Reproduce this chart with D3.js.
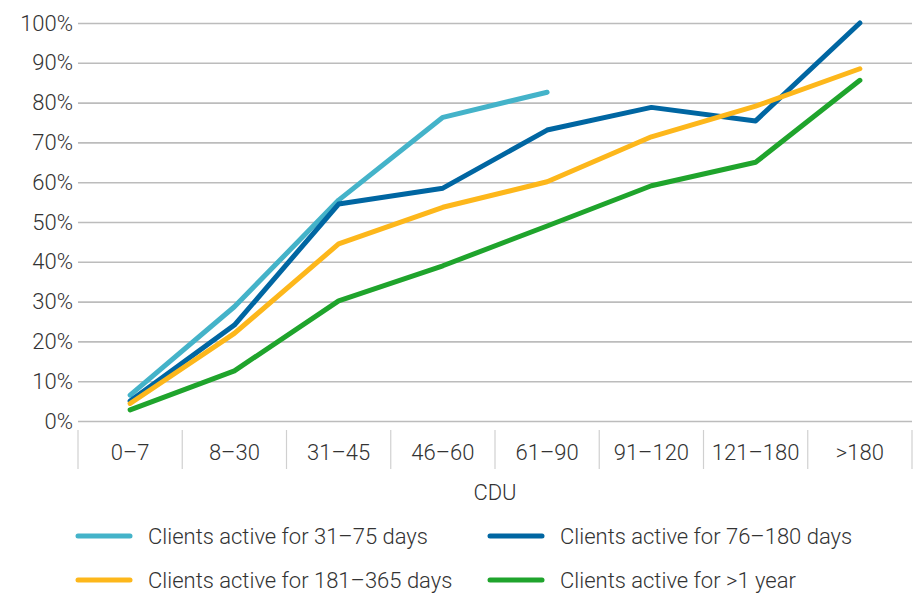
<!DOCTYPE html>
<html>
<head>
<meta charset="utf-8">
<script src="https://cdn.jsdelivr.net/npm/d3@7"></script>
<style>
  html, body { margin: 0; padding: 0; background: #fff; }
  svg text { font-family: Roboto, "Liberation Sans", sans-serif; font-weight: 300; fill: #333; }
</style>
</head>
<body>
<svg id="chart" width="921" height="594"></svg>
<script>
// CDU buckets along the x axis
const categories = ["0–7", "8–30", "31–45", "46–60", "61–90", "91–120", "121–180", ">180"];

// Share of clients per CDU bucket, by activity cohort (null = no data)
const active31to75 = [0.065, 0.287, 0.555, 0.763, 0.826, null, null, null];
const active76to180 = [0.05, 0.241, 0.545, 0.585, 0.731, 0.788, 0.754, 1.0];
const active181to365 = [0.044, 0.22, 0.445, 0.537, 0.601, 0.714, 0.791, 0.885];
const activeOver1y = [0.028, 0.126, 0.302, 0.39, 0.49, 0.591, 0.65, 0.856];

const yTicks = [0, 0.1, 0.2, 0.3, 0.4, 0.5, 0.6, 0.7, 0.8, 0.9, 1.0];
const seriesNames = [
  "Clients active for 31–75 days",
  "Clients active for 76–180 days",
  "Clients active for 181–365 days",
  "Clients active for >1 year"
];
const seriesColors = ["#44b3c9", "#0066a2", "#fdb71b", "#1fa42c"];
const seriesValues = [active31to75, active76to180, active181to365, activeOver1y];

const svg = d3.select("#chart");
const plotLeft = 78, plotRight = 912, plotTop = 23, plotBottom = 421;

const x = d3.scaleBand().domain(categories).range([plotLeft, plotRight]).padding(0);
const y = d3.scaleLinear().domain([0, 1]).range([plotBottom, plotTop]);

// Horizontal gridlines with percent labels
const yAxis = svg.append("g")
  .attr("transform", `translate(${plotLeft},0)`)
  .call(d3.axisLeft(y).tickValues(yTicks).tickSize(-(plotRight - plotLeft)).tickPadding(5)
    .tickFormat(d3.format(".0%")));
yAxis.select(".domain").remove();
yAxis.selectAll(".tick line").attr("stroke", "#bcbcbc").attr("stroke-width", 1.6);
yAxis.selectAll(".tick text").attr("font-size", 22).attr("fill", "#333");

// Category separators and labels below the plot
const sepY0 = 430, sepY1 = 469;
const boundaries = categories.map(c => x(c)).concat([plotRight]);
svg.append("g").selectAll("line").data(boundaries).join("line")
  .attr("x1", d => d).attr("x2", d => d)
  .attr("y1", sepY0).attr("y2", sepY1)
  .attr("stroke", "#d0d0d0").attr("stroke-width", 1.2);

svg.append("g").selectAll("text").data(categories).join("text")
  .attr("x", d => x(d) + x.bandwidth() / 2)
  .attr("y", 460)
  .attr("text-anchor", "middle")
  .attr("font-size", 22)
  .text(d => d);

svg.append("text")
  .attr("x", (plotLeft + plotRight) / 2)
  .attr("y", 500)
  .attr("text-anchor", "middle")
  .attr("font-size", 22)
  .text("CDU");

// Series lines
const line = d3.line()
  .defined(d => d.v !== null)
  .x(d => x(d.c) + x.bandwidth() / 2)
  .y(d => y(d.v));

seriesValues.forEach((vals, i) => {
  svg.append("path")
    .datum(categories.map((c, j) => ({ c, v: vals[j] })))
    .attr("fill", "none")
    .attr("stroke", seriesColors[i])
    .attr("stroke-width", 5)
    .attr("stroke-linejoin", "round")
    .attr("stroke-linecap", "round")
    .attr("d", line);
});

// Legend, two columns by two rows
const legendPos = [[78, 536], [490, 536], [78, 580], [490, 580]];
seriesNames.forEach((name, i) => {
  const [lx, ly] = legendPos[i];
  svg.append("line")
    .attr("x1", lx).attr("x2", lx + 52)
    .attr("y1", ly).attr("y2", ly)
    .attr("stroke", seriesColors[i])
    .attr("stroke-width", 5)
    .attr("stroke-linecap", "round");
  svg.append("text")
    .attr("x", lx + 70)
    .attr("y", ly + 8)
    .attr("font-size", 22)
    .text(name);
});
</script>
</body>
</html>
